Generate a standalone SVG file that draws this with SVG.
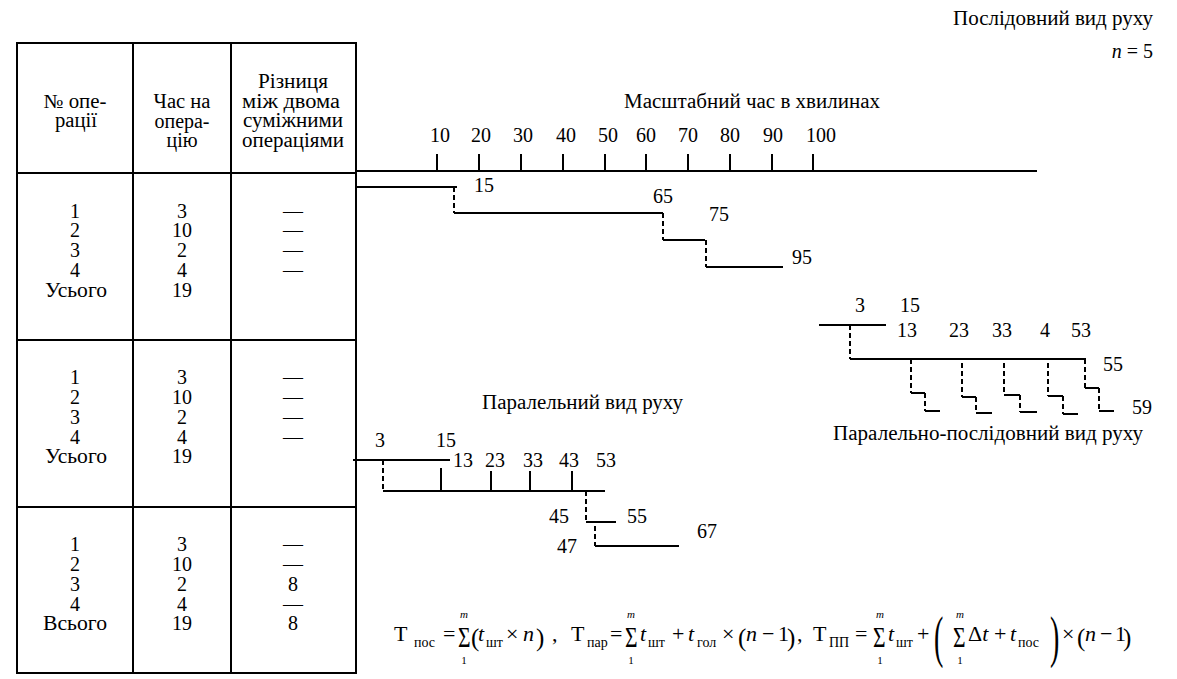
<svg xmlns="http://www.w3.org/2000/svg" width="1177" height="679" viewBox="0 0 1177 679" font-family="'Liberation Serif', serif">
<style>
text{font-family:'Liberation Serif','Times New Roman',serif;font-size:20px;fill:#000}
.c{text-anchor:middle}
.e{text-anchor:end}
.ln{stroke:#000;stroke-width:2;fill:none}
.dl{stroke:#000;stroke-width:2;fill:none;stroke-dasharray:5 3}
.f{font-size:22px}
.i{font-style:italic}
.s{font-size:14px}
.sm{font-size:11px;text-anchor:middle}
.sg{font-size:30px}
.p{font-size:25px}
.bp{font-size:28px}
</style>
<rect width="1177" height="679" fill="#fff"/>

<g id="table">
<rect class="ln" x="17" y="43" width="339" height="630"/>
<path class="ln" d="M133 43V673M231 43V673M17 173H356M17 340H356M17 507H356"/>
<g id="header">
<text class="c" x="75" y="108" textLength="63" lengthAdjust="spacingAndGlyphs">№ опе-</text>
<text class="c" x="76" y="127" textLength="42" lengthAdjust="spacingAndGlyphs">рації</text>
<text class="c" x="182" y="108" textLength="57" lengthAdjust="spacingAndGlyphs">Час на</text>
<text class="c" x="182" y="128" textLength="55" lengthAdjust="spacingAndGlyphs">опера-</text>
<text class="c" x="182" y="147" textLength="31" lengthAdjust="spacingAndGlyphs">цію</text>
<text class="c" x="293" y="88" textLength="70" lengthAdjust="spacingAndGlyphs">Різниця</text>
<text class="c" x="291" y="108" textLength="98" lengthAdjust="spacingAndGlyphs">між двома</text>
<text class="c" x="293" y="127" textLength="100" lengthAdjust="spacingAndGlyphs">суміжними</text>
<text class="c" x="293" y="147" textLength="102" lengthAdjust="spacingAndGlyphs">операціями</text>
</g>
<g id="row1">
<text class="c" x="75" y="218">1</text><text class="c" x="75" y="237">2</text><text class="c" x="75" y="257">3</text><text class="c" x="75" y="277">4</text><text class="c" x="76" y="297" textLength="62" lengthAdjust="spacingAndGlyphs">Усього</text>
<text class="c" x="182" y="218">3</text><text class="c" x="182" y="237">10</text><text class="c" x="182" y="257">2</text><text class="c" x="182" y="277">4</text><text class="c" x="182" y="297">19</text>
<text class="c" x="293" y="218">—</text><text class="c" x="293" y="237">—</text><text class="c" x="293" y="257">—</text><text class="c" x="293" y="277">—</text>
</g>
<g id="row2">
<text class="c" x="75" y="384">1</text><text class="c" x="75" y="404">2</text><text class="c" x="75" y="424">3</text><text class="c" x="75" y="444">4</text><text class="c" x="76" y="463" textLength="62" lengthAdjust="spacingAndGlyphs">Усього</text>
<text class="c" x="182" y="384">3</text><text class="c" x="182" y="404">10</text><text class="c" x="182" y="424">2</text><text class="c" x="182" y="444">4</text><text class="c" x="182" y="463">19</text>
<text class="c" x="293" y="384">—</text><text class="c" x="293" y="404">—</text><text class="c" x="293" y="424">—</text><text class="c" x="293" y="444">—</text>
</g>
<g id="row3">
<text class="c" x="75" y="551">1</text><text class="c" x="75" y="571">2</text><text class="c" x="75" y="591">3</text><text class="c" x="75" y="611">4</text><text class="c" x="75" y="630" textLength="64" lengthAdjust="spacingAndGlyphs">Всього</text>
<text class="c" x="182" y="551">3</text><text class="c" x="182" y="571">10</text><text class="c" x="182" y="591">2</text><text class="c" x="182" y="611">4</text><text class="c" x="182" y="630">19</text>
<text class="c" x="293" y="551">—</text><text class="c" x="293" y="571">—</text><text class="c" x="293" y="591">8</text><text class="c" x="293" y="611">—</text><text class="c" x="293" y="630">8</text>
</g>
</g>

<g id="titles">
<text class="e" x="1153" y="25" textLength="200" lengthAdjust="spacingAndGlyphs">Послідовний вид руху</text>
<text class="e" x="1153" y="58"><tspan class="i">n</tspan> = 5</text>
</g>

<g id="axis">
<text x="624" y="108" textLength="256" lengthAdjust="spacingAndGlyphs">Масштабний час в хвилинах</text>
<path class="ln" d="M356 171H1037M437 154V171M479 154V171M521 154V171M563 154V171M605 154V171M646 154V171M688 154V171M730 154V171M772 154V171M813 154V171"/>
<text class="c" x="440" y="142">10</text><text class="c" x="481" y="142">20</text><text class="c" x="523" y="142">30</text><text class="c" x="566" y="142">40</text><text class="c" x="608" y="142">50</text><text class="c" x="646" y="142">60</text><text class="c" x="688" y="142">70</text><text class="c" x="730" y="142">80</text><text class="c" x="773" y="142">90</text><text class="c" x="821" y="142">100</text>
</g>

<g id="connectors">
<g id="sequential">
<path class="ln" d="M356 187H457M454 213H663M663 240H705M706 267H783"/>
<path class="dl" d="M454 187V213M663 213V240M706 240V267"/>
</g>
<g id="parallel">
<path class="ln" d="M353 460H450M383 491H605M441 468V491M491 471V491M530 471V491M572 471V491M586 522H616M595 546H679"/>
<path class="dl" d="M383 460V491M586 491V522M595 526V546"/>
</g>
<g id="parallel-sequential">
<path class="ln" d="M819 325H886M850 359H1086M911 393H925M925 411H940M962 397H976M976 413H992M1004 395H1020M1020 412H1037M1048 396H1063M1063 414H1078M1085 388H1099M1099 411H1114"/>
<path class="dl" d="M850 325V359M911 359V393M925 393V411M962 363V397M976 397V413M1004 363V395M1020 395V412M1048 363V396M1063 396V414M1085 359V388M1099 388V411"/>
</g>
</g>

<g id="sequential-labels">
<text class="c" x="484" y="192">15</text>
<text class="c" x="663" y="203">65</text>
<text class="c" x="719" y="221">75</text>
<text class="c" x="802" y="264">95</text>
</g>

<g id="parallel-labels">
<text x="482" y="409" textLength="201" lengthAdjust="spacingAndGlyphs">Паралельний вид руху</text>
<text class="c" x="380" y="447">3</text><text class="c" x="446" y="447">15</text>
<text class="c" x="463" y="467">13</text><text class="c" x="495" y="467">23</text><text class="c" x="533" y="467">33</text><text class="c" x="569" y="467">43</text><text class="c" x="606" y="467">53</text>
<text class="c" x="559" y="523">45</text><text class="c" x="637" y="523">55</text>
<text class="c" x="707" y="538">67</text><text class="c" x="567" y="553">47</text>
</g>

<g id="parallel-sequential-labels">
<text class="c" x="860" y="312">3</text><text class="c" x="910" y="312">15</text>
<text class="c" x="907" y="337">13</text><text class="c" x="959" y="337">23</text><text class="c" x="1002" y="337">33</text><text class="c" x="1045" y="337">4</text><text class="c" x="1081" y="337">53</text>
<text class="c" x="1113" y="371">55</text>
<text class="c" x="1142" y="414">59</text>
<text x="833" y="440" textLength="310" lengthAdjust="spacingAndGlyphs">Паралельно-послідовний вид руху</text>
</g>

<g id="formula">
<text class="f" x="394" y="641">Т</text><text class="s" x="414" y="647">пос</text>
<text class="f" x="443" y="641">=</text>
<text class="sg" transform="translate(458,647) scale(0.72,1)">Σ</text>
<text class="sm i" x="464" y="618">m</text><text class="sm" x="464" y="664">1</text>
<text class="p" x="471" y="646">(</text>
<text class="f i" x="478" y="641">t</text><text class="s" x="486" y="647">шт</text>
<text class="f" x="506" y="641">×</text>
<text class="f i" x="523" y="641">n</text>
<text class="p" x="536" y="646">)</text>
<text class="f" x="552" y="641">,</text>

<text class="f" x="571" y="641">Т</text><text class="s" x="587" y="647">пар</text>
<text class="f" x="610" y="641">=</text>
<text class="sg" transform="translate(625,647) scale(0.72,1)">Σ</text>
<text class="sm i" x="631" y="618">m</text><text class="sm" x="631" y="664">1</text>
<text class="f i" x="640" y="641">t</text><text class="s" x="648" y="647">шт</text>
<text class="f" x="672" y="641">+</text>
<text class="f i" x="688" y="641">t</text><text class="s" x="697" y="647">гол</text>
<text class="f" x="722" y="641">×</text>
<text class="p" x="738" y="646">(</text>
<text class="f i" x="746" y="641">n</text>
<text class="f" x="762" y="641">−</text>
<text class="f" x="778" y="641">1</text>
<text class="p" x="787" y="646">)</text>
<text class="f" x="797" y="641">,</text>

<text class="f" x="813" y="641">Т</text><text class="s" x="829" y="647">ПП</text>
<text class="f" x="855" y="641">=</text>
<text class="sg" transform="translate(873,647) scale(0.72,1)">Σ</text>
<text class="sm i" x="880" y="618">m</text><text class="sm" x="880" y="664">1</text>
<text class="f i" x="888" y="641">t</text><text class="s" x="896" y="647">шт</text>
<text class="f" x="917" y="641">+</text>
<text class="bp" transform="translate(934,656) scale(1,2)">(</text>
<text class="sg" transform="translate(953,647) scale(0.72,1)">Σ</text>
<text class="sm i" x="960" y="618">m</text><text class="sm" x="960" y="664">1</text>
<text class="f" x="968" y="641">Δ<tspan class="i">t</tspan></text>
<text class="f" x="994" y="641">+</text>
<text class="f i" x="1010" y="641">t</text><text class="s" x="1018" y="647">пос</text>
<text class="bp" transform="translate(1050,656) scale(1,2)">)</text>
<text class="f" x="1062" y="641">×</text>
<text class="p" x="1077" y="646">(</text>
<text class="f i" x="1085" y="641">n</text>
<text class="f" x="1100" y="641">−</text>
<text class="f" x="1115" y="641">1</text>
<text class="p" x="1123" y="646">)</text>
</g>
</svg>
